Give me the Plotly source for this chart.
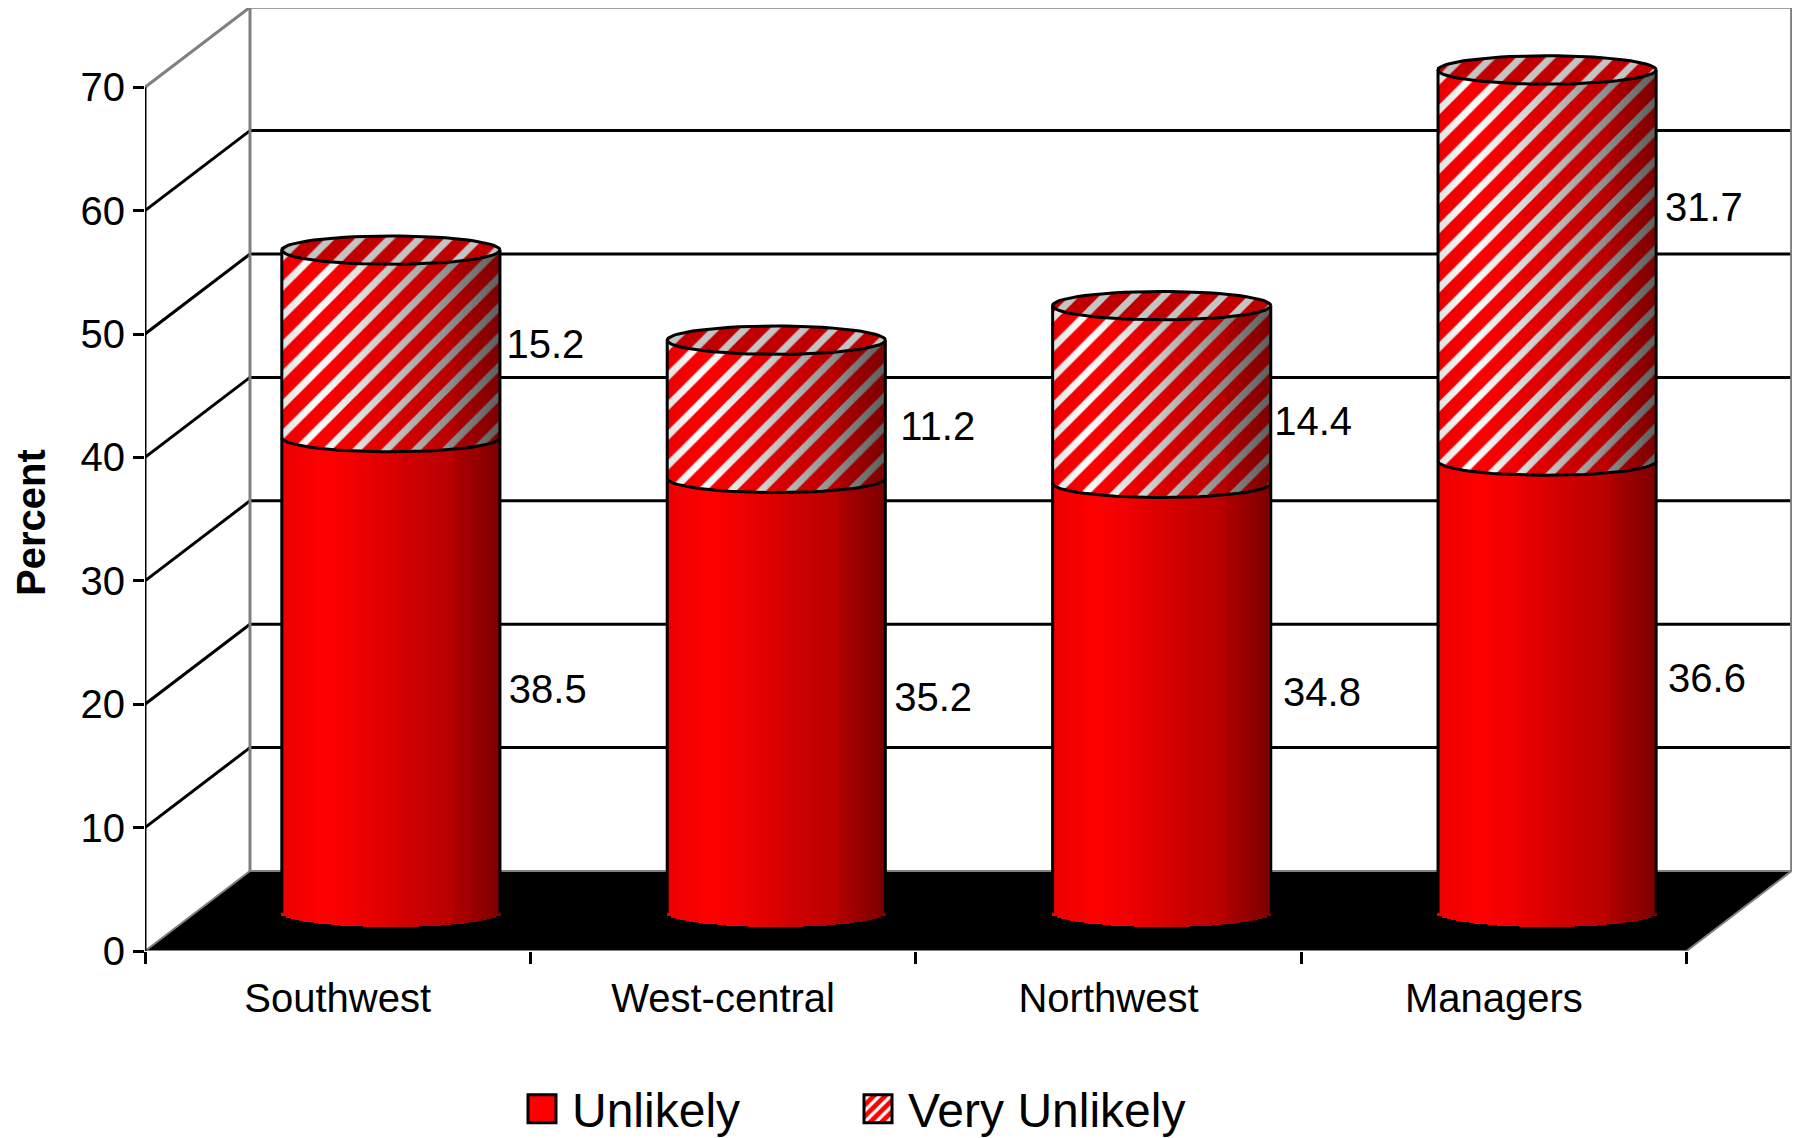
import numpy as np
import plotly.graph_objects as go

categories = ["Southwest", "West-central", "Northwest", "Managers"]
unlikely = [38.5, 35.2, 34.8, 36.6]
very_unlikely = [15.2, 11.2, 14.4, 31.7]
y_ticks = [0, 10, 20, 30, 40, 50, 60, 70]

# label nudges relative to the middle of each segment (axis units)
unlikely_dx = [0.545, 0.545, 0.554, 0.553]
unlikely_dy = [1.67, 2.67, 3.25, 3.46]
very_dx = [0.539, 0.557, 0.531, 0.545]
very_dy = [2.8, 1.4, 0.65, 7.55]

FONT = "Liberation Sans, Arial, sans-serif"
L, R, T, B = 145, 1, 8, 187
W, H = 1793, 1138
CAT_PX = 385.4
UNIT_PX = 12.34
x_lo = -0.5
n = len(categories)
x_hi = x_lo + (W - L - R) / CAT_PX
y_hi = (H - B - T) / UNIT_PX
DX, DY = 105 / CAT_PX, 80 / UNIT_PX   # depth of the box

CYL_OFF, CYL_HW = 0.138, 0.283
BASE, RY = 3.1, 1.15
STRIPS = 48
idx = np.arange(n)
cx = idx + CYL_OFF
u = np.array(unlikely)
v = np.array(very_unlikely)


def red_at(t, scale=1.0):
    r = np.interp(t, [0, .2, .35, .6, .78, .8, 1], [235, 255, 240, 205, 185, 172, 125]) * scale
    return f"rgb({r:.0f},0,0)"


def gray_at(t):
    g = np.interp(t, [0, .15, .35, .6, .8, 1], [225, 255, 225, 178, 135, 95])
    return f"rgb({g:.0f},{g:.0f},{g:.0f})"


fig = go.Figure()
step = 1 / STRIPS
bar_w = 2 * CYL_HW * step * 1.25
PAT = dict(shape="/", size=21, solidity=0.34, fillmode="replace")

for k in range(STRIPS):
    t = (k + 0.5) * step
    off = CYL_HW * (2 * t - 1)
    s = np.sqrt(1 - (2 * t - 1) ** 2)
    x = cx + off
    fig.add_bar(x=x, y=u, base=BASE - RY * s + 0 * u, width=bar_w, showlegend=False,
                legendgroup="u", hoverinfo="skip", marker=dict(color=red_at(t), line_width=0))
for k in range(STRIPS):
    t = (k + 0.5) * step
    off = CYL_HW * (2 * t - 1)
    s = np.sqrt(1 - (2 * t - 1) ** 2)
    x = cx + off
    fig.add_bar(x=x, y=v, base=BASE + u - RY * s, width=bar_w, showlegend=False,
                legendgroup="v", hoverinfo="skip",
                marker=dict(color=red_at(t), line_width=0,
                            pattern=dict(bgcolor=red_at(t), fgcolor=gray_at(t), fgopacity=1, **PAT)))
for k in range(STRIPS):
    t = (k + 0.5) * step
    off = CYL_HW * (2 * t - 1)
    s = np.sqrt(1 - (2 * t - 1) ** 2)
    x = cx + off
    fig.add_bar(x=x, y=2 * RY * s + 0 * v, base=BASE + u + v - RY * s, width=bar_w, showlegend=False,
                legendgroup="v", hoverinfo="skip",
                marker=dict(color="#c00000", line_width=0,
                            pattern=dict(bgcolor="#c00000", fgcolor="#c4c4c4", fgopacity=1, **PAT)))

# cylinder outlines
ang = np.linspace(0, 2 * np.pi, 73)
front = np.linspace(np.pi, 2 * np.pi, 37)
ox, oy = [], []
for i in range(n):
    top = BASE + u[i] + v[i]
    mid = BASE + u[i]
    ox += list(cx[i] + CYL_HW * np.cos(ang)) + [None]
    oy += list(top + RY * np.sin(ang)) + [None]
    ox += list(cx[i] + CYL_HW * np.cos(front)) + [None]
    oy += list(mid + RY * np.sin(front)) + [None]
    for side in (-1, 1):
        ox += [cx[i] + side * CYL_HW, cx[i] + side * CYL_HW, None]
        oy += [BASE, top, None]
fig.add_scatter(x=ox, y=oy, mode="lines", line=dict(color="black", width=3),
                showlegend=False, hoverinfo="skip")

# data labels
fig.add_scatter(x=idx + np.array(unlikely_dx), y=u / 2 + np.array(unlikely_dy),
                text=[f"{a:.1f}" for a in unlikely], mode="text", textposition="middle center",
                textfont=dict(family=FONT, size=40, color="black"), showlegend=False, hoverinfo="skip")
fig.add_scatter(x=idx + np.array(very_dx), y=u + v / 2 + np.array(very_dy),
                text=[f"{a:.1f}" for a in very_unlikely], mode="text", textposition="middle center",
                textfont=dict(family=FONT, size=40, color="black"), showlegend=False, hoverinfo="skip")

# legend entries
fig.add_bar(x=[None], y=[None], name="Unlikely", legendgroup="u",
            marker=dict(color="#ff0000", line=dict(color="black", width=3)))
fig.add_bar(x=[None], y=[None], name="Very Unlikely", legendgroup="v",
            marker=dict(color="#ff0000", line=dict(color="black", width=3),
                        pattern=dict(shape="/", size=14, solidity=0.4, bgcolor="#ff0000",
                                     fgcolor="white", fgopacity=1, fillmode="replace")))

# the 3-D box
GRAY = "#808080"
shapes = []
right = x_lo + n
shapes.append(dict(type="path", layer="below", xref="x", yref="y",
                   path=f"M{x_lo},0 L{right},0 L{right + DX},{DY} L{x_lo + DX},{DY} Z",
                   fillcolor="black", line=dict(color=GRAY, width=2)))
for tick in y_ticks:
    col = GRAY if tick == y_ticks[-1] else "black"
    if tick > 0:
        shapes.append(dict(type="line", layer="below", xref="x", yref="y", x0=x_lo, y0=tick,
                           x1=x_lo + DX, y1=tick + DY, line=dict(color=col, width=3)))
        shapes.append(dict(type="line", layer="below", xref="x", yref="y", x0=x_lo + DX, y0=tick + DY,
                           x1=right + DX, y1=tick + DY, line=dict(color=col, width=3)))
shapes.append(dict(type="line", layer="below", xref="x", yref="y", x0=x_lo + DX, y0=DY,
                   x1=x_lo + DX, y1=y_ticks[-1] + DY, line=dict(color=GRAY, width=3)))
shapes.append(dict(type="line", layer="below", xref="x", yref="y", x0=right + DX, y0=DY,
                   x1=right + DX, y1=y_ticks[-1] + DY, line=dict(color=GRAY, width=3)))
shapes.append(dict(type="line", layer="above", xref="x", yref="y", x0=x_lo, y0=0,
                   x1=x_lo, y1=y_ticks[-1], line=dict(color="black", width=3)))

fig.update_layout(
    width=W, height=H,
    margin=dict(l=L, r=R, t=T, b=B, pad=0, autoexpand=False),
    paper_bgcolor="white", plot_bgcolor="white",
    barmode="overlay", bargap=0,
    font=dict(family=FONT, color="black"),
    shapes=shapes,
    xaxis=dict(range=[x_lo, x_hi], tickmode="array", tickvals=list(idx), ticktext=categories,
               ticks="", showgrid=False, zeroline=False, showline=False,
               tickfont=dict(family=FONT, size=40, color="black"), ticklabelstandoff=20,
               minor=dict(tickmode="array", tickvals=[x_lo + i for i in range(n + 1)], ticks="outside",
                          ticklen=12, tickwidth=3, tickcolor="black", showgrid=False)),
    yaxis=dict(range=[0, y_hi], tickmode="array", tickvals=y_ticks, ticks="outside", ticklen=11,
               tickwidth=3, tickcolor="black", showgrid=False, zeroline=False, showline=False,
               tickfont=dict(family=FONT, size=40, color="black"), ticklabelstandoff=0),
    legend=dict(orientation="h", xref="paper", yref="paper", x=(512 - L) / (W - L - R), xanchor="left",
                y=-(1109 - (H - B)) / (H - B - T), yanchor="middle", entrywidth=271, itemwidth=50,
                font=dict(family=FONT, size=48, color="black"), bgcolor="rgba(0,0,0,0)",
                traceorder="normal", itemclick=False, itemdoubleclick=False),
    annotations=[dict(text="<b>Percent</b>", xref="paper", yref="paper", showarrow=False,
                      x=(31 - L) / (W - L - R), y=(H - B - 523) / (H - B - T), textangle=-90,
                      xanchor="center", yanchor="middle",
                      font=dict(family=FONT, size=40, color="black"))],
)

post = """
document.body.style.margin = '0';
function bigSwatches(){
  document.querySelectorAll('.legend .legendpoints path').forEach(function(p){
    p.setAttribute('d','M14,14H-14V-14H14Z');
  });
  document.querySelectorAll('.legend .scrollbox').forEach(function(g){
    g.removeAttribute('clip-path');
    g.style.clipPath = 'none';
  });
}
bigSwatches();
setTimeout(bigSwatches, 50);
setTimeout(bigSwatches, 300);
"""
fig.write_html("out.html", post_script=post, config={"displayModeBar": False})
